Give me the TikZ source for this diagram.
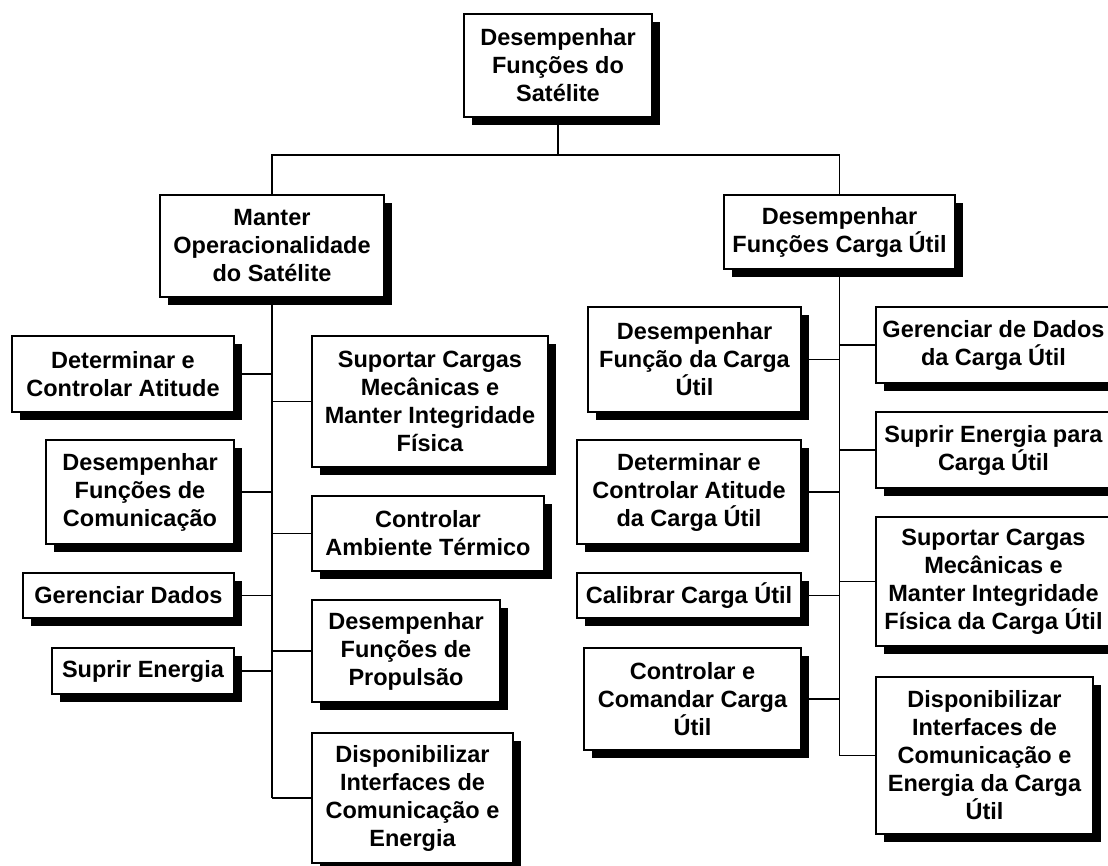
\documentclass[tikz,border=0pt]{standalone}
\usepackage{fontspec}
\setmainfont{Liberation Sans}
\usetikzlibrary{shadows, backgrounds, calc}

\begin{document}
\begin{tikzpicture}[x=1pt, y=-1pt,
        fn/.style={draw, fill=white, line width=1.7pt, align=center, inner sep=0pt,
                   font=\fontsize{23.5}{28}\selectfont\bfseries,
                   drop shadow={fill=black, opacity=1, shadow xshift=8pt, shadow yshift=-8pt}},
        link/.style={line width=1.8pt}
      ]
        \useasboundingbox (0,0) rectangle (1108,866);
        \clip (0,0) rectangle (1108,866);
        % top level
        \node[fn, minimum width=188pt, minimum height=103pt] (sat) at (558,65.5)
            {Desempenhar\\Funções do\\Satélite};
        \node[fn, minimum width=224pt, minimum height=102pt] (oper) at (272,246)
            {Manter\\Operacionalidade\\do Satélite};
        \node[fn, minimum width=231pt, minimum height=74pt] (carga) at (839.5,232)
            {Desempenhar\\Funções Carga Útil};
        % satellite branch
        \node[fn, minimum width=222pt, minimum height=76pt]  (atit)  at (123,374)   {Determinar e\\Controlar Atitude};
        \node[fn, minimum width=188pt, minimum height=104pt] (comun) at (140,492)   {Desempenhar\\Funções de\\Comunicação};
        \node[fn, minimum width=211pt, minimum height=45pt]  (dados) at (128.5,595.5) {Gerenciar Dados};
        \node[fn, minimum width=182pt, minimum height=46pt]  (energ) at (143,671)   {Suprir Energia};
        \node[fn, minimum width=236pt, minimum height=131pt] (mecan) at (430,401.5) {Suportar Cargas\\Mecânicas e\\Manter Integridade\\Física};
        \node[fn, minimum width=232pt, minimum height=75pt]  (term)  at (428,533.5) {Controlar\\Ambiente Térmico};
        \node[fn, minimum width=188pt, minimum height=102pt] (prop)  at (406,651)   {Desempenhar\\Funções de\\Propulsão};
        \node[fn, minimum width=201pt, minimum height=130pt] (intf)  at (412.5,798) {Disponibilizar\\Interfaces de\\Comunicação e\\Energia};
        % payload branch
        \node[fn, minimum width=213pt, minimum height=105pt] (cfunc)  at (694.5,359.5) {Desempenhar\\Função da Carga\\Útil};
        \node[fn, minimum width=224pt, minimum height=104pt] (catit)  at (689,492)     {Determinar e\\Controlar Atitude\\da Carga Útil};
        \node[fn, minimum width=224pt, minimum height=45pt]  (ccalib) at (689,595.5)   {Calibrar Carga Útil};
        \node[fn, minimum width=217pt, minimum height=102pt] (ccmd)   at (692.5,699)   {Controlar e\\Comandar Carga\\Útil};
        \node[fn, minimum width=235pt, minimum height=76pt]  (cdados) at (993.5,345)   {Gerenciar de Dados\\da Carga Útil};
        \node[fn, minimum width=235pt, minimum height=76pt]  (cenerg) at (993.5,450)   {Suprir Energia para\\Carga Útil};
        \node[fn, minimum width=235pt, minimum height=129pt] (cmecan) at (993.5,581.5) {Suportar Cargas\\Mecânicas e\\Manter Integridade\\Física da Carga Útil};
        \node[fn, minimum width=217pt, minimum height=157pt] (cintf)  at (984.5,755.5) {Disponibilizar\\Interfaces de\\Comunicação e\\Energia da Carga\\Útil};
        \coordinate (bar) at (558,155);
        \begin{scope}[on background layer]
          \draw[link] (sat.south) -- (bar);
          \draw[link] (oper.north) |- (bar) -| (carga.north);
          \draw[link] (oper.south) -- (oper.south |- intf.west);
          \draw[link] (carga.south) -- (carga.south |- cintf.west);
          \foreach \n in {atit, comun, dados, energ}
            \draw[link] (\n.east) -- (\n.east -| oper.south);
          \foreach \n in {mecan, term, prop, intf}
            \draw[link] (\n.west) -- (\n.west -| oper.south);
          \foreach \n in {cfunc, catit, ccalib, ccmd}
            \draw[link] (\n.east) -- (\n.east -| carga.south);
          \foreach \n in {cdados, cenerg, cmecan, cintf}
            \draw[link] (\n.west) -- (\n.west -| carga.south);
        \end{scope}
      \end{tikzpicture}
\end{document}
